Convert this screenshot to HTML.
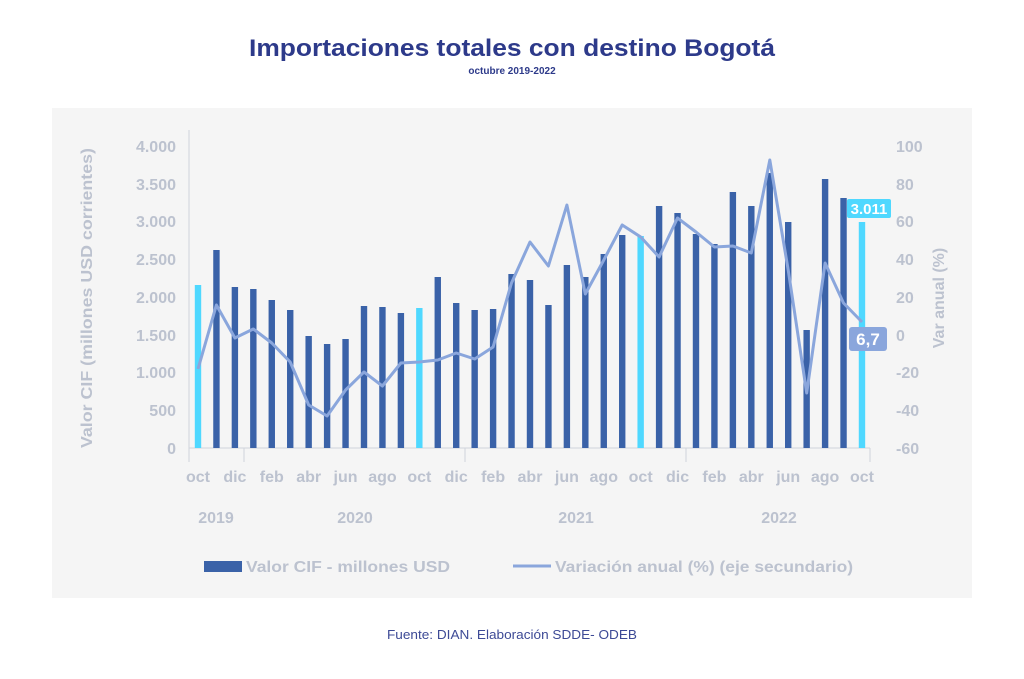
<!DOCTYPE html>
<html><head><meta charset="utf-8"><style>
body{margin:0;background:#fff;width:1024px;height:674px;overflow:hidden;font-family:"Liberation Sans",sans-serif}
</style></head><body>
<svg id="s" width="1024" height="674" xmlns="http://www.w3.org/2000/svg" font-family="Liberation Sans, sans-serif">
<rect x="0" y="0" width="1024" height="674" fill="#fff"/>
<text x="512" y="56" text-anchor="middle" font-size="24" font-weight="bold" fill="#2d3a8a" textLength="526" lengthAdjust="spacingAndGlyphs">Importaciones totales con destino Bogotá</text>
<text x="512" y="74" text-anchor="middle" font-size="10" font-weight="bold" fill="#2d3a8a">octubre 2019-2022</text>
<rect x="52" y="108" width="920" height="490" fill="#f5f5f5"/>
<g font-size="16" font-weight="bold" fill="#bcc2cf" text-anchor="end">
<text x="176" y="152">4.000</text><text x="176" y="190">3.500</text><text x="176" y="227">3.000</text><text x="176" y="265">2.500</text><text x="176" y="303">2.000</text><text x="176" y="341">1.500</text><text x="176" y="378">1.000</text><text x="176" y="416">500</text><text x="176" y="454">0</text>
</g>
<g font-size="16" font-weight="bold" fill="#bcc2cf" text-anchor="start">
<text x="896" y="152">100</text><text x="896" y="190">80</text><text x="896" y="227">60</text><text x="896" y="265">40</text><text x="896" y="303">20</text><text x="896" y="341">0</text><text x="896" y="378">-20</text><text x="896" y="416">-40</text><text x="896" y="454">-60</text>
</g>
<text transform="translate(92,298) rotate(-90)" text-anchor="middle" font-size="16" font-weight="bold" fill="#bcc2cf" textLength="300" lengthAdjust="spacingAndGlyphs">Valor CIF (millones USD corrientes)</text>
<text transform="translate(944,298) rotate(-90)" text-anchor="middle" font-size="16" font-weight="bold" fill="#bcc2cf">Var  anual (%)</text>
<line x1="189" y1="130" x2="189" y2="462" stroke="#d0d4dc" stroke-width="1"/>
<line x1="189" y1="448" x2="870" y2="448" stroke="#d0d4dc" stroke-width="1"/>
<g stroke="#d0d4dc" stroke-width="1"><line x1="244" y1="448" x2="244" y2="462"/><line x1="465" y1="448" x2="465" y2="462"/><line x1="686" y1="448" x2="686" y2="462"/><line x1="870" y1="448" x2="870" y2="462"/></g>
<g id="bars"></g>
<polyline id="ln" fill="none" stroke="#8aa6dc" stroke-width="3" stroke-linejoin="round"/>
<g id="xl" font-size="16" font-weight="bold" fill="#bcc2cf" text-anchor="middle"></g>
<g font-size="16" font-weight="bold" fill="#bcc2cf" text-anchor="middle">
<text x="216" y="523">2019</text><text x="355" y="523">2020</text><text x="576" y="523">2021</text><text x="779" y="523">2022</text>
</g>
<rect x="847" y="199" width="44" height="19" rx="2" fill="#4fd8ff"/>
<text x="869" y="214" text-anchor="middle" font-size="15" font-weight="bold" fill="#fff">3.011</text>
<rect x="849" y="327" width="38" height="24" rx="3" fill="#8aa6dc"/>
<text x="868" y="345" text-anchor="middle" font-size="17" font-weight="bold" fill="#fff">6,7</text>
<rect x="204" y="561" width="38" height="11" fill="#3a62a8"/>
<text x="246" y="572" font-size="16" font-weight="bold" fill="#bcc2cf" textLength="204" lengthAdjust="spacingAndGlyphs">Valor CIF - millones USD</text>
<line x1="513" y1="566" x2="551" y2="566" stroke="#8aa6dc" stroke-width="3"/>
<text x="555" y="572" font-size="16" font-weight="bold" fill="#bcc2cf" textLength="298" lengthAdjust="spacingAndGlyphs">Variación anual (%) (eje secundario)</text>
<text x="512" y="639" text-anchor="middle" font-size="13" fill="#3d4a96" textLength="250" lengthAdjust="spacingAndGlyphs">Fuente: DIAN. Elaboración SDDE- ODEB</text>
</svg>
<script>
var tops=[285,250,287,289,300,310,336,344,339,306,307,313,308,277,303,310,309,274,280,305,265,277,254,235,236,206,213,234,244,192,206,173,222,330,179,198,222];
var ly=[369,305,338,329,343,362,405,416,390,372,386,363,362,360,353,359,347,283,242,266,205,294,260,225,237,257,218,232,247,246,253,160,270,393,263,303,322];
var m=["oct","dic","feb","abr","jun","ago"];
var ns="http://www.w3.org/2000/svg",b=document.getElementById("bars"),xl=document.getElementById("xl"),pts=[];
for(var i=0;i<37;i++){var x=198+i*18.444;
var r=document.createElementNS(ns,"rect");r.setAttribute("x",x-3.2);r.setAttribute("y",tops[i]);r.setAttribute("width",6.4);r.setAttribute("height",448-tops[i]);
r.setAttribute("fill",(i%12==0)?"#4fd8ff":"#3a62a8");b.appendChild(r);
pts.push(x.toFixed(1)+","+ly[i]);
if(i%2==0){var t=document.createElementNS(ns,"text");t.setAttribute("x",x);t.setAttribute("y",482);t.textContent=m[(i/2)%6];xl.appendChild(t);}}
document.getElementById("ln").setAttribute("points",pts.join(" "));
</script>
</body></html>
